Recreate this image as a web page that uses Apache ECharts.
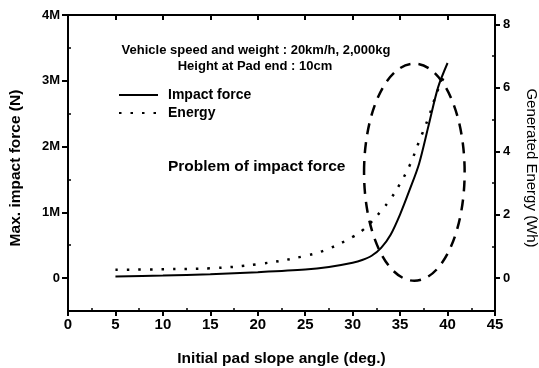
<!DOCTYPE html>
<html>
<head>
<meta charset="utf-8">
<script src="https://cdn.jsdelivr.net/npm/echarts@6/dist/echarts.min.js"></script>
<style>
  html, body { margin: 0; padding: 0; background: #fff; }
  #chart { width: 539px; height: 368px; }
</style>
</head>
<body>
<div id="chart"></div>
<script>
  // initial pad slope angle (deg.)
  const angles = [5, 10, 15, 20, 25, 27.5, 30, 31, 32, 33, 34, 35, 36, 37, 38, 39, 40];
  // max. impact force (N)
  const impactForce = [24000, 38000, 60000, 90000, 130000, 170000, 235000, 275000, 340000, 460000, 660000, 970000, 1340000, 1740000, 2320000, 2900000, 3270000];
  // generated energy (Wh)
  const energy = [0.26, 0.28, 0.31, 0.44, 0.70, 0.93, 1.30, 1.50, 1.78, 2.12, 2.50, 2.98, 3.55, 4.31, 5.07, 5.95, 6.55];

  // tick labels
  const forceTicks = [0, 1e6, 2e6, 3e6, 4e6];
  const forceMinorTicks = [5e5, 1.5e6, 2.5e6, 3.5e6];
  const energyTicks = [0, 2, 4, 6, 8];
  const energyMinorTicks = [1, 3, 5, 7];

  // "problem" region : centre angle, centre force, half width (deg), half height (N)
  const problemRegion = [36.5, 1.61e6, 5.3, 1.65e6];

  const FONT = "'Liberation Sans', Arial, sans-serif";
  const black = '#000';
  const energyMax = 8.3;
  const energyMin = -energyMax / 8; // keeps both zeros on one line

  const axisLine = { show: true, onZero: false, lineStyle: { color: black, width: 2 } };

  let myChart = echarts.init(document.getElementById('chart'));
  myChart.setOption({
    animation: false,
    textStyle: { fontFamily: FONT, color: black },
    grid: { left: 68, right: 44, top: 15, bottom: 57, outerBoundsMode: 'none' },
    legend: {
      data: ['Impact force', 'Energy'],
      orient: 'vertical',
      left: 118,
      top: 88,
      padding: 0,
      itemWidth: 39,
      itemHeight: 14,
      itemGap: 4,
      itemStyle: { opacity: 0 },
      textStyle: { fontFamily: FONT, fontSize: 14, fontWeight: 'bold', color: black, padding: [0, 0, 0, 5] }
    },
    xAxis: [
      {
        type: 'value', min: 0, max: 45, interval: 5, position: 'bottom',
        axisLine: axisLine,
        axisTick: { length: 5, lineStyle: { color: black, width: 2 } },
        axisLabel: { fontFamily: FONT, fontSize: 15, fontWeight: 'bold', color: black, margin: 6 },
        splitLine: { show: false },
        name: 'Initial pad slope angle (deg.)',
        nameLocation: 'middle',
        nameGap: 40,
        nameTextStyle: { fontFamily: FONT, fontSize: 15.5, fontWeight: 'bold', color: black }
      },
      {
        type: 'value', min: 0, max: 45, interval: 5, position: 'top',
        axisLine: axisLine,
        axisTick: { inside: true, length: 5, lineStyle: { color: black, width: 2 } },
        axisLabel: { show: false },
        splitLine: { show: false }
      },
      {
        // minor ticks along the bottom
        type: 'value', min: 0, max: 45, interval: 5, position: 'bottom',
        axisLine: { show: false, onZero: false },
        axisTick: { show: false, inside: true },
        minorTick: { show: true, splitNumber: 2, length: 3, lineStyle: { color: black, width: 1.5 } },
        axisLabel: { show: false },
        splitLine: { show: false }
      }
    ],
    yAxis: [
      {
        type: 'value', min: -5e5, max: 4e6, position: 'left',
        axisLine: axisLine,
        axisTick: { customValues: forceTicks, length: 6, lineStyle: { color: black, width: 2 } },
        axisLabel: {
          customValues: forceTicks,
          fontFamily: FONT, fontSize: 13, fontWeight: 'bold', color: black, margin: 8,
          formatter: v => v === 0 ? '0' : (v / 1e6) + 'M'
        },
        splitLine: { show: false },
        name: 'Max. impact force (N)',
        nameLocation: 'middle',
        nameRotate: 90,
        nameGap: 44,
        nameTextStyle: { fontFamily: FONT, fontSize: 15.5, fontWeight: 'bold', color: black, padding: [0, 10, 0, 0] }
      },
      {
        type: 'value', min: energyMin, max: energyMax, position: 'right',
        axisLine: axisLine,
        axisTick: { customValues: energyTicks, length: 5, lineStyle: { color: black, width: 2 } },
        axisLabel: {
          customValues: energyTicks,
          fontFamily: FONT, fontSize: 13, fontWeight: 'bold', color: black, margin: 8
        },
        splitLine: { show: false },
        name: 'Generated Energy (Wh)',
        nameLocation: 'middle',
        nameRotate: -90,
        nameGap: 29,
        nameTextStyle: { fontFamily: FONT, fontSize: 15, color: black, padding: [0, 0, 0, 10] }
      },
      {
        type: 'value', min: -5e5, max: 4e6, position: 'left',
        axisLine: { show: false, onZero: false },
        axisTick: { customValues: forceMinorTicks, inside: true, length: 3, lineStyle: { color: black, width: 1.5 } },
        axisLabel: { show: false },
        splitLine: { show: false }
      },
      {
        type: 'value', min: energyMin, max: energyMax, position: 'right',
        axisLine: { show: false, onZero: false },
        axisTick: { customValues: energyMinorTicks, inside: true, length: 3, lineStyle: { color: black, width: 1.5 } },
        axisLabel: { show: false },
        splitLine: { show: false }
      }
    ],
    graphic: [
      {
        type: 'text', x: 256, y: 50,
        style: { text: 'Vehicle speed and weight : 20km/h, 2,000kg', font: 'bold 13px ' + FONT, fill: black, align: 'center', verticalAlign: 'middle' }
      },
      {
        type: 'text', x: 255, y: 66,
        style: { text: 'Height at Pad end : 10cm', font: 'bold 13px ' + FONT, fill: black, align: 'center', verticalAlign: 'middle' }
      },
      {
        type: 'text', x: 168, y: 167,
        style: { text: 'Problem of impact force', font: 'bold 15.5px ' + FONT, fill: black, align: 'left', verticalAlign: 'middle' }
      }
    ],
    series: [
      {
        name: 'Impact force',
        type: 'line',
        xAxisIndex: 0, yAxisIndex: 0,
        symbol: 'none',
        smooth: 0.3,
        lineStyle: { color: black, width: 2 },
        itemStyle: { color: black },
        data: angles.map((a, i) => [a, impactForce[i]])
      },
      {
        name: 'Energy',
        type: 'line',
        xAxisIndex: 0, yAxisIndex: 1,
        symbol: 'none',
        smooth: 0.4,
        lineStyle: { color: black, width: 2.5, type: [2.5, 9] },
        itemStyle: { color: black },
        data: angles.map((a, i) => [a, energy[i]])
      },
      {
        name: 'region',
        type: 'custom',
        xAxisIndex: 0, yAxisIndex: 0,
        silent: true,
        clip: false,
        renderItem: (params, api) => {
          const c = api.coord([api.value(0), api.value(1)]);
          const s = api.size([api.value(2), api.value(3)]);
          return {
            type: 'ellipse',
            shape: { cx: c[0], cy: c[1], rx: s[0], ry: s[1] },
            style: { fill: 'none', stroke: black, lineWidth: 2.5, lineDash: [11, 8] }
          };
        },
        data: [problemRegion]
      }
    ]
  });
</script>
</body>
</html>
